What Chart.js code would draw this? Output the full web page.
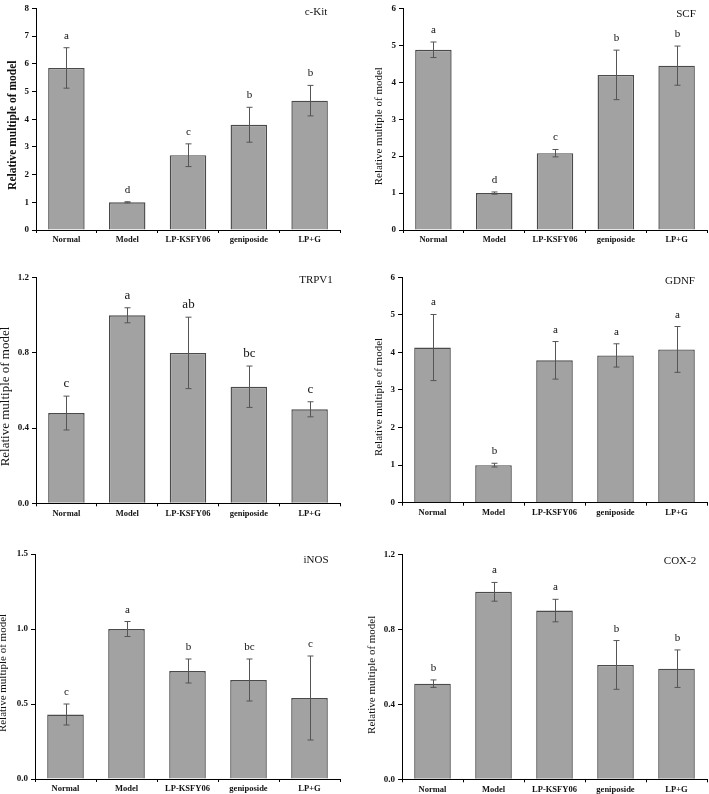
<!DOCTYPE html>
<html>
<head>
<meta charset="utf-8">
<script src="https://cdn.jsdelivr.net/npm/chart.js@4/dist/chart.umd.min.js"></script>
<style>
  html, body { margin:0; padding:0; background:#fff; }
  #wrap { position:relative; width:709px; height:794px; overflow:hidden; background:#fff; }
  canvas { position:absolute; }
</style>
</head>
<body>
<div id="wrap"></div>
<script>
// ---------- data ----------
const categories = ["Normal", "Model", "LP-KSFY06", "geniposide", "LP+G"];

const cKitValues   = [5.85, 1.00, 2.70, 3.80, 4.67];
const cKitErrors   = [0.73, 0.02, 0.41, 0.63, 0.55];
const cKitLetters  = ["a", "d", "c", "b", "b"];

const scfValues    = [4.88, 1.00, 2.08, 4.20, 4.45];
const scfErrors    = [0.21, 0.03, 0.10, 0.67, 0.53];
const scfLetters   = ["a", "d", "c", "b", "b"];

const trpv1Values  = [0.48, 1.00, 0.80, 0.62, 0.50];
const trpv1Errors  = [0.09, 0.04, 0.19, 0.11, 0.04];
const trpv1Letters = ["c", "a", "ab", "bc", "c"];

const gdnfValues   = [4.13, 1.00, 3.79, 3.92, 4.08];
const gdnfErrors   = [0.88, 0.05, 0.50, 0.31, 0.61];
const gdnfLetters  = ["a", "b", "a", "a", "a"];

const inosValues   = [0.43, 1.00, 0.72, 0.66, 0.54];
const inosErrors   = [0.07, 0.05, 0.08, 0.14, 0.28];
const inosLetters  = ["c", "a", "b", "bc", "c"];

const cox2Values   = [0.51, 1.00, 0.90, 0.61, 0.59];
const cox2Errors   = [0.02, 0.05, 0.06, 0.13, 0.10];
const cox2Letters  = ["b", "a", "a", "b", "b"];

const panelTitles  = ["c-Kit", "SCF", "TRPV1", "GDNF", "iNOS", "COX-2"];
const yAxisMax     = [8, 6, 1.2, 6, 1.5, 1.2];
const yAxisStep    = [1, 1, 0.4, 1, 0.5, 0.4];
const yTickDecimals= [0, 0, 1, 0, 1, 1];
const yAxisTitle   = "Relative multiple of model";

// ---------- layout (positions/styles only) ----------
const layouts = [
  {cx:0,   cy:0,   cw:354, ch:265, L:36, T:5,    R:340, B:230,   tb:true,  ts:11.5, tx:13, ty:6,  ls:11, tdx:24, tdy:4},
  {cx:354, cy:0,   cw:355, ch:265, L:49, T:5,    R:353, B:230,   tb:false, ts:11,   tx:25, ty:7,  ls:11, tdx:21, tdy:6},
  {cx:0,   cy:265, cw:354, ch:265, L:36, T:12.7, R:340, B:238.3, tb:false, ts:13,   tx:6,  ty:6,  ls:13, tdx:24, tdy:2.5},
  {cx:354, cy:265, cw:355, ch:265, L:48, T:12.3, R:353, B:237.7, tb:false, ts:11,   tx:25, ty:7,  ls:11, tdx:27, tdy:4},
  {cx:0,   cy:530, cw:354, ch:264, L:35, T:24,   R:340, B:249,   tb:false, ts:11,   tx:3.5,ty:6.5,ls:11, tdx:24, tdy:6},
  {cx:354, cy:530, cw:355, ch:264, L:48, T:24.3, R:353, B:249.3, tb:false, ts:11,   tx:18, ty:8,  ls:11, tdx:27, tdy:7}
];

const panelData = [
  [cKitValues, cKitErrors, cKitLetters],
  [scfValues, scfErrors, scfLetters],
  [trpv1Values, trpv1Errors, trpv1Letters],
  [gdnfValues, gdnfErrors, gdnfLetters],
  [inosValues, inosErrors, inosLetters],
  [cox2Values, cox2Errors, cox2Letters]
];

Chart.defaults.font.family = '"Liberation Serif", "Times New Roman", serif';
Chart.defaults.color = '#111';

const annotPlugin = {
  id: 'annot',
  afterDatasetsDraw(chart, args, opts) {
    const {ctx, chartArea} = chart;
    const yS = chart.scales.y;
    const meta = chart.getDatasetMeta(0);
    const vals = chart.data.datasets[0].data;
    ctx.save();
    meta.data.forEach((bar, i) => {
      const v = vals[i], e = opts.err[i];
      const cx = Math.round(bar.x) + 0.5;
      const yt = yS.getPixelForValue(v + e);
      const yb = yS.getPixelForValue(v - e);
      ctx.strokeStyle = '#555';
      ctx.lineWidth = 1;
      ctx.beginPath();
      ctx.moveTo(cx, yt); ctx.lineTo(cx, yb);
      ctx.moveTo(cx - 3, yt); ctx.lineTo(cx + 3, yt);
      ctx.moveTo(cx - 3, yb); ctx.lineTo(cx + 3, yb);
      ctx.stroke();
      ctx.fillStyle = '#111';
      ctx.font = opts.letterSize + 'px "Liberation Serif"';
      ctx.textAlign = 'center';
      ctx.textBaseline = 'alphabetic';
      ctx.fillText(opts.letters[i], cx, yt - 9);
    });
    // panel title
    ctx.font = '11px "Liberation Serif"';
    ctx.textAlign = 'center';
    ctx.textBaseline = 'middle';
    ctx.fillStyle = '#111';
    ctx.fillText(opts.title, chartArea.right - opts.tdx, chartArea.top + opts.tdy);
    // y axis title
    ctx.save();
    ctx.translate(opts.yTitleX, (chartArea.top + chartArea.bottom) / 2 + opts.yTitleDy);
    ctx.rotate(-Math.PI / 2);
    ctx.font = (opts.yTitleBold ? 'bold ' : '') + opts.yTitleSize + 'px "Liberation Serif"';
    ctx.textAlign = 'center';
    ctx.textBaseline = 'middle';
    ctx.fillText(opts.yTitle, 0, 0);
    ctx.restore();
    ctx.restore();
  }
};

const wrap = document.getElementById('wrap');
layouts.forEach((lo, p) => {
  const c = document.createElement('canvas');
  c.width = lo.cw; c.height = lo.ch;
  c.style.left = lo.cx + 'px'; c.style.top = lo.cy + 'px';
  c.style.width = lo.cw + 'px'; c.style.height = lo.ch + 'px';
  wrap.appendChild(c);
  const [vals, errs, letters] = panelData[p];
  const xH = 15;
  const dec = yTickDecimals[p];
  new Chart(c, {
    type: 'bar',
    data: {
      labels: categories,
      datasets: [{
        data: vals,
        backgroundColor: '#a2a2a2',
        borderColor: '#4a4a4a',
        borderWidth: 1.4,
        categoryPercentage: 1.0,
        barPercentage: 0.6
      }]
    },
    plugins: [annotPlugin],
    options: {
      responsive: false,
      animation: false,
      devicePixelRatio: 1,
      layout: { padding: { left: 0, top: lo.T, right: lo.cw - lo.R, bottom: lo.ch - lo.B - xH } },
      plugins: {
        legend: { display: false },
        tooltip: { enabled: false },
        annot: {
          err: errs, letters: letters, title: panelTitles[p], letterSize: lo.ls, tdx: lo.tdx, tdy: lo.tdy,
          yTitle: yAxisTitle, yTitleX: lo.tx, yTitleDy: lo.ty, yTitleSize: lo.ts, yTitleBold: lo.tb
        }
      },
      scales: {
        x: {
          offset: true,
          grid: { display: true, drawOnChartArea: false, offset: true, tickLength: 3, color: '#000', lineWidth: 1 },
          border: { display: true, color: '#000', width: 1 },
          ticks: { font: { size: 8.5, weight: 'bold' }, color: '#111', padding: 2, maxRotation: 0, autoSkip: false },
          afterFit: s => { s.height = xH; }
        },
        y: {
          min: 0, max: yAxisMax[p],
          grid: { display: true, drawOnChartArea: false, tickLength: 4, color: '#000', lineWidth: 1 },
          border: { display: true, color: '#000', width: 1 },
          ticks: {
            stepSize: yAxisStep[p],
            font: { size: 9, weight: 'bold' }, color: '#111', padding: 3,
            callback: v => Number(v).toFixed(dec)
          },
          title: { display: false },
          afterFit: s => { s.width = lo.L; }
        }
      }
    }
  });
});
</script>
</body>
</html>
